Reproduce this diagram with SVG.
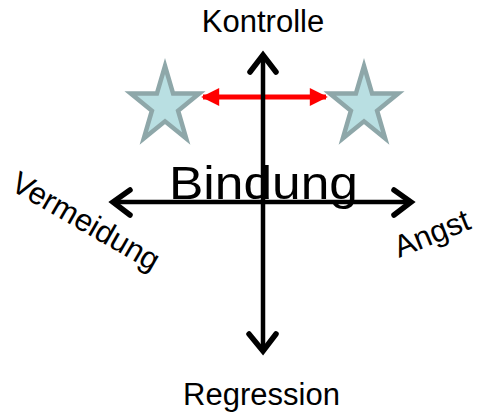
<svg xmlns="http://www.w3.org/2000/svg" width="479" height="412" viewBox="0 0 479 412">
  <defs>
    <style>
      .lbl { font-family: "Liberation Sans", Arial, sans-serif; fill: #000; }
      .star { fill: #b9dfe2; stroke: #8ea7a9; stroke-width: 4.5; stroke-linejoin: miter; }
      .axis { fill: none; stroke: #000; stroke-width: 4.5; }
      .head { fill: none; stroke: #000; stroke-width: 5.5; stroke-linecap: round; stroke-linejoin: miter; }
      .red { stroke: #ff0000; stroke-width: 5; fill: none; }
    </style>
    <marker id="redhead" viewBox="0 0 10 10" refX="9" refY="5" markerWidth="4" markerHeight="3.6" markerUnits="strokeWidth" orient="auto-start-reverse">
      <path d="M0,0 L10,5 L0,10 Z" fill="#ff0000"/>
    </marker>
  </defs>
  <rect width="479" height="412" fill="#ffffff"/>

  <g id="star-left">
    <polygon class="star" points="165,66 173.1,93.6 199.2,93.6 178.1,110.7 186.2,138.4 165,121.3 143.8,138.4 151.9,110.7 130.8,93.6 156.9,93.6"/>
  </g>
  <g id="star-right">
    <polygon class="star" points="364,66 372.1,93.6 398.2,93.6 377.1,110.7 385.2,138.4 364,121.3 342.8,138.4 350.9,110.7 329.8,93.6 355.9,93.6"/>
  </g>

  <g id="connectors">
    <line class="red" x1="203" y1="97" x2="326" y2="97" marker-start="url(#redhead)" marker-end="url(#redhead)"/>
    <line class="axis" x1="263" y1="56" x2="263" y2="350"/>
    <line class="axis" x1="114" y1="202" x2="410" y2="202"/>
    <polyline class="head" points="250,72 263,55 276,72"/>
    <polyline class="head" points="249,334 263,351 276,334"/>
    <polyline class="head" points="130,190 113,202 130,215"/>
    <polyline class="head" points="394,190 411,202 394,215"/>
  </g>

  <g id="label-kontrolle">
    <text class="lbl" x="263" y="32" font-size="31" text-anchor="middle">Kontrolle</text>
  </g>
  <g id="label-regression">
    <text class="lbl" x="261.5" y="405" font-size="31" text-anchor="middle">Regression</text>
  </g>
  <g id="label-bindung">
    <text class="lbl" x="169" y="199" font-size="47" textLength="189" lengthAdjust="spacingAndGlyphs">Bindung</text>
  </g>
  <g id="label-vermeidung">
    <text class="lbl" font-size="31" transform="translate(9,189) rotate(30)">Vermeidung</text>
  </g>
  <g id="label-angst">
    <text class="lbl" font-size="31" transform="translate(399,258) rotate(-22)">Angst</text>
  </g>
</svg>
